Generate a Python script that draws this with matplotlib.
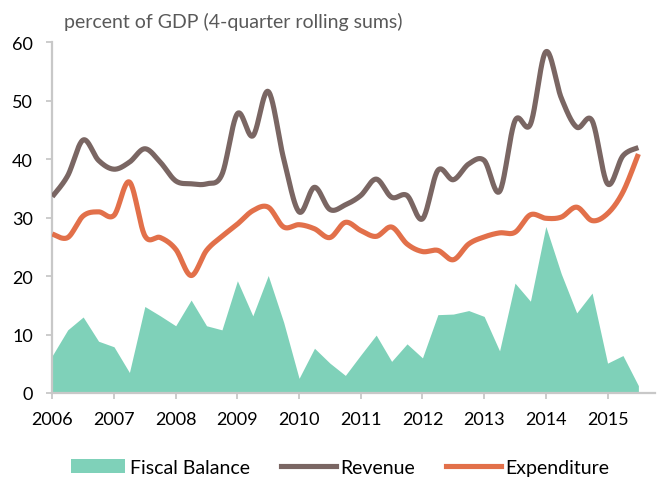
import matplotlib
matplotlib.use("Agg")
import matplotlib.pyplot as plt
import numpy as np
from matplotlib.patches import Patch
from matplotlib.lines import Line2D

# quarterly observations, 2006Q1 .. 2015Q3 (percent of GDP, 4-quarter rolling sums)
quarters = np.arange(39)
years = 2006 + quarters / 4.0

revenue = [33.6, 37.2, 43.3, 39.8, 38.3, 39.5, 41.8, 39.5, 36.3, 35.8,
           35.8, 37.4, 47.8, 44.0, 51.6, 40.1, 31.0, 35.2, 31.4, 32.2,
           33.8, 36.6, 33.5, 33.8, 29.8, 38.1, 36.5, 39.2, 39.8, 34.5,
           46.6, 46.0, 58.4, 50.5, 45.5, 46.6, 35.8, 40.6, 42.0]

expenditure = [27.2, 26.6, 30.3, 31.0, 30.4, 36.1, 26.9, 26.6, 24.6, 20.1,
               24.4, 26.8, 28.9, 31.2, 31.8, 28.4, 28.8, 28.1, 26.6, 29.2,
               27.8, 26.8, 28.4, 25.5, 24.2, 24.4, 22.8, 25.5, 26.7, 27.4,
               27.5, 30.5, 29.9, 30.1, 31.8, 29.5, 30.7, 34.4, 40.9]

fiscal_balance = [6.4, 10.8, 13.0, 8.85, 7.9, 3.5, 14.8, 13.2, 11.5, 15.9,
                  11.5, 10.8, 19.2, 13.2, 20.1, 12.1, 2.5, 7.65, 5.1, 3.0,
                  6.5, 9.9, 5.4, 8.4, 6.0, 13.4, 13.5, 14.1, 13.1, 7.2,
                  18.8, 15.7, 28.5, 20.4, 13.7, 17.1, 5.1, 6.4, 1.25]

year_ticks = list(range(2006, 2016))
y_ticks = [0, 10, 20, 30, 40, 50, 60]

C_BAL = "#7FD1B9"
C_REV = "#7A6663"
C_EXP = "#E2704A"
C_AXIS = "#C8C8C8"


def smooth(x, y, n=24):
    # Catmull-Rom spline through every point (Excel-style smoothed line)
    x = np.asarray(x, float)
    y = np.asarray(y, float)
    px = np.concatenate([[x[0]], x, [x[-1]]])
    py = np.concatenate([[y[0]], y, [y[-1]]])
    t = np.linspace(0, 1, n, endpoint=False)
    xs, ys = [], []
    for i in range(1, len(px) - 2):
        for p, out in ((px, xs), (py, ys)):
            p0, p1, p2, p3 = p[i - 1], p[i], p[i + 1], p[i + 2]
            out.append(0.5 * (2 * p1 + (-p0 + p2) * t
                              + (2 * p0 - 5 * p1 + 4 * p2 - p3) * t ** 2
                              + (-p0 + 3 * p1 - 3 * p2 + p3) * t ** 3))
    xs.append([x[-1]])
    ys.append([y[-1]])
    return np.concatenate(xs), np.concatenate(ys)


plt.rcParams['font.family'] = ['Lato', 'DejaVu Sans']

fig = plt.figure(figsize=(6.58, 4.81), dpi=100)
ax = fig.add_axes([0.0795, 0.181, 0.916, 0.7287])

ax.fill_between(years, 0, fiscal_balance, color=C_BAL, linewidth=0, zorder=1)
rx, ry = smooth(years, revenue)
ax.plot(rx, ry, color=C_REV, lw=3.7, solid_capstyle='butt', zorder=3)
ex, ey = smooth(years, expenditure)
ax.plot(ex, ey, color=C_EXP, lw=3.7, solid_capstyle='butt', zorder=3)

ax.set_xlim(2006, 2015.77)
ax.set_ylim(0, 60)
ax.set_xticks(year_ticks)
ax.set_xticklabels([str(y) for y in year_ticks])
ax.set_yticks(y_ticks)

for side in ("top", "right"):
    ax.spines[side].set_visible(False)
for side in ("left", "bottom"):
    ax.spines[side].set_color(C_AXIS)
    ax.spines[side].set_linewidth(1.6)
ax.tick_params(axis="both", colors=C_AXIS, labelcolor="black", labelsize=13,
               length=4, width=1.3, direction="out")
ax.tick_params(axis="x", pad=9)
ax.tick_params(axis="y", pad=10)

fig.text(0.097, 0.954, "percent of GDP (4-quarter rolling sums)", color="#595959",
         fontsize=14, ha="left", va="center")

handles = [Patch(facecolor=C_BAL, edgecolor="none"),
           Line2D([0], [0], color=C_REV, lw=3.7),
           Line2D([0], [0], color=C_EXP, lw=3.7)]
fig.legend(handles, ["Fiscal Balance", "Revenue", "Expenditure"], ncol=3,
           loc="center", bbox_to_anchor=(0.517, 0.027), frameon=False,
           fontsize=14, handlelength=2.8, handletextpad=0.25,
           columnspacing=1.6)

fig.savefig("out.png", dpi=100)
